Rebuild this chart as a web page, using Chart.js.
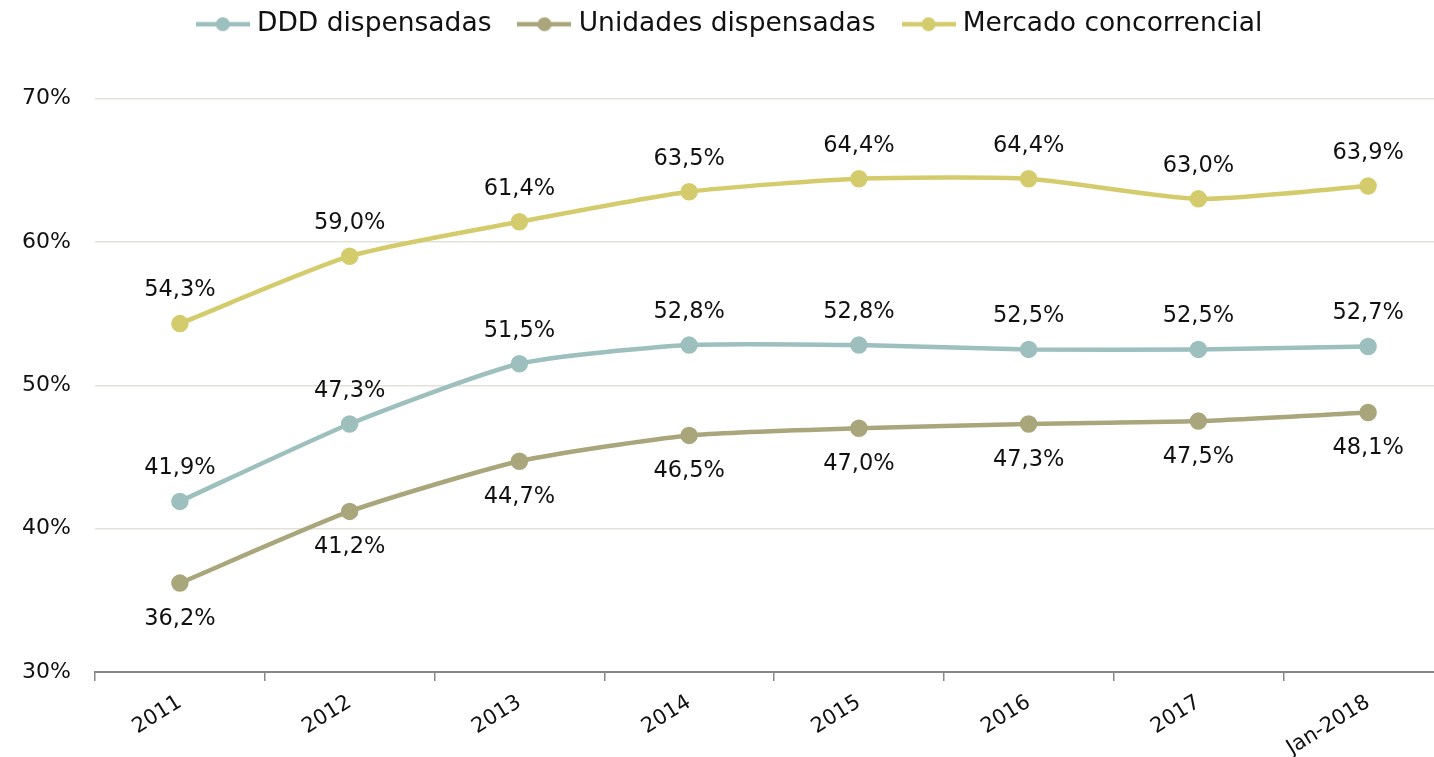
<!DOCTYPE html>
<html>
<head>
<meta charset="utf-8">
<script src="https://cdn.jsdelivr.net/npm/chart.js@4"></script>
<style>
  html, body { margin: 0; padding: 0; background: #fff; overflow: hidden; }
  #wrap { width: 1434px; height: 757px; overflow: hidden; }
</style>
</head>
<body>
<div id="wrap"><canvas id="chart" width="1464" height="757"></canvas></div>
<script>
// Chart data
const categories = ["2011", "2012", "2013", "2014", "2015", "2016", "2017", "Jan-2018"];
const dddValues = [41.9, 47.3, 51.5, 52.8, 52.8, 52.5, 52.5, 52.7];
const unidadesValues = [36.2, 41.2, 44.7, 46.5, 47.0, 47.3, 47.5, 48.1];
const mercadoValues = [54.3, 59.0, 61.4, 63.5, 64.4, 64.4, 63.0, 63.9];
const yTicks = [30, 40, 50, 60, 70];

const FONT = '"DejaVu Sans", sans-serif';

// little line + dot marker for the legend
function legendMarker(color) {
  const c = document.createElement('canvas');
  c.width = 54; c.height = 16;
  const g = c.getContext('2d');
  g.strokeStyle = color;
  g.lineWidth = 4.5;
  g.beginPath(); g.moveTo(0, 8); g.lineTo(54, 8); g.stroke();
  g.fillStyle = color;
  g.beginPath(); g.arc(27, 8, 7, 0, Math.PI * 2); g.fill();
  return c;
}

function fmt(v) {
  return v.toFixed(1).replace('.', ',') + '%';
}

// value labels next to each point
const valueLabels = {
  id: 'valueLabels',
  afterDatasetsDraw(chart) {
    const ctx = chart.ctx;
    ctx.save();
    ctx.font = '22.5px ' + FONT;
    ctx.fillStyle = '#111';
    ctx.textAlign = 'center';
    ctx.textBaseline = 'middle';
    chart.data.datasets.forEach((ds, i) => {
      const below = ds.label === 'Unidades dispensadas';
      chart.getDatasetMeta(i).data.forEach((pt, j) => {
        ctx.fillText(fmt(ds.data[j]), pt.x, pt.y + (below ? 36 : -33));
      });
    });
    ctx.restore();
  }
};

// extra room under the legend
const legendSpace = {
  id: 'legendSpace',
  beforeInit(chart) {
    const fit = chart.legend.fit;
    chart.legend.fit = function () {
      fit.bind(chart.legend)();
      this.height += 51;
    };
  }
};

const colors = { ddd: '#9dbfbe', uni: '#aaa67c', merc: '#d4cc6c' };
const markers = [legendMarker(colors.ddd), legendMarker(colors.uni), legendMarker(colors.merc)];

function series(label, data, color) {
  return {
    label: label,
    data: data,
    borderColor: color,
    backgroundColor: color,
    borderWidth: 4.5,
    pointRadius: 6.5,
    pointHoverRadius: 6.5,
    tension: 0.2,
    fill: false
  };
}

const ctx = document.getElementById('chart').getContext('2d');
const chart = new Chart(ctx, {
  type: 'line',
  data: {
    labels: categories,
    datasets: [
      series('DDD dispensadas', dddValues, colors.ddd),
      series('Unidades dispensadas', unidadesValues, colors.uni),
      series('Mercado concorrencial', mercadoValues, colors.merc)
    ]
  },
  options: {
    responsive: false,
    animation: false,
    layout: { padding: { top: -21, right: 0, left: 0, bottom: 0 } },
    plugins: {
      legend: {
        position: 'top',
        labels: {
          usePointStyle: true,
          pointStyleWidth: 42,
          padding: 32,
          color: '#111',
          font: { family: FONT, size: 26.5 },
          generateLabels(chart) {
            return Chart.defaults.plugins.legend.labels.generateLabels(chart)
              .map(l => Object.assign(l, { pointStyle: markers[l.datasetIndex] }));
          }
        }
      },
      tooltip: { enabled: false }
    },
    scales: {
      x: {
        offset: true,
        grid: { offset: true, drawOnChartArea: false, tickLength: 9, color: '#888', lineWidth: 1.5 },
        border: { color: '#888', width: 2 },
        ticks: { color: '#111', font: { family: FONT, size: 21 }, minRotation: 32, maxRotation: 32, padding: 9 },
        afterFit(scale) { scale.height = 85; }
      },
      y: {
        min: 30,
        max: 70,
        afterBuildTicks(scale) { scale.ticks = yTicks.map(v => ({ value: v })); },
        grid: { color: '#e3e2da', lineWidth: 1.5, drawTicks: false },
        border: { display: false },
        ticks: { color: '#111', font: { family: FONT, size: 22 }, padding: 24, callback: v => v + '%' },
        afterFit(scale) { scale.width = 95; }
      }
    }
  },
  plugins: [valueLabels, legendSpace]
});
</script>
</body>
</html>
